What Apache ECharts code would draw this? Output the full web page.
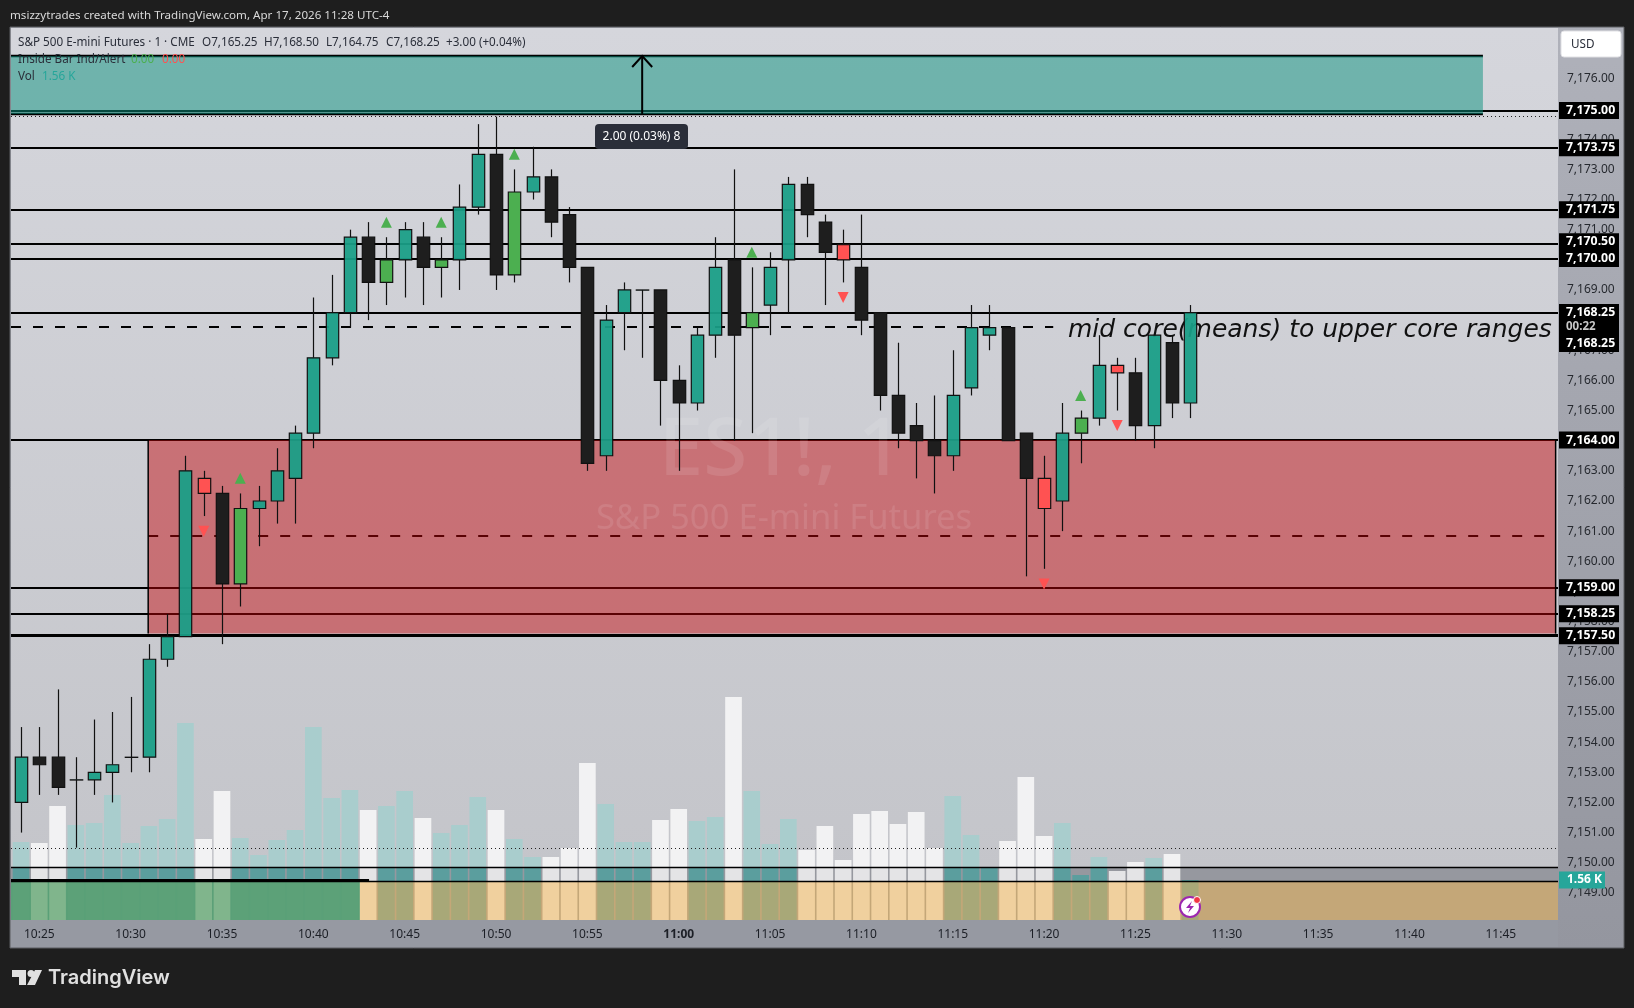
<!DOCTYPE html>
<html><head><meta charset="utf-8">
<script src="https://cdn.jsdelivr.net/npm/echarts@6/dist/echarts.min.js"></script>
<style>html,body{margin:0;padding:0;background:#1e1e1e;overflow:hidden}#c{width:1634px;height:1008px}</style>
</head><body><div id="c"></div>
<script>
const times=["10:24","10:25","10:26","10:27","10:28","10:29","10:30","10:31","10:32","10:33","10:34","10:35","10:36","10:37","10:38","10:39","10:40","10:41","10:42","10:43","10:44","10:45","10:46","10:47","10:48","10:49","10:50","10:51","10:52","10:53","10:54","10:55","10:56","10:57","10:58","10:59","11:00","11:01","11:02","11:03","11:04","11:05","11:06","11:07","11:08","11:09","11:10","11:11","11:12","11:13","11:14","11:15","11:16","11:17","11:18","11:19","11:20","11:21","11:22","11:23","11:24","11:25","11:26","11:27","11:28"];
const kinds="tkkttttttt"+"rkgttttttk"+"gtkgttkgtk"+"kktttkkttk"+"gttkkrkkkk"+"ktttkkrtgt"+"rktkt";
const opens=[7152,7153.5,7153.5,7152.75,7152.75,7153,7153.5,7153.5,7156.75,7157.5,7162.75,7162.25,7159.25,7161.75,7162,7162.75,7164.25,7166.75,7168.25,7170.75,7169.25,7170,7170.75,7169.75,7170,7171.75,7173.5,7169.5,7172.25,7172.75,7171.5,7169.75,7163.5,7168.25,7169,7169,7166,7165.25,7167.5,7170,7167.75,7168.5,7170,7172.5,7171.25,7170.5,7169.75,7168.25,7165.5,7164.5,7164,7163.5,7165.75,7167.5,7167.75,7164.25,7162.75,7162,7164.25,7164.75,7166.5,7166.25,7164.5,7167.25,7165.25];
const closes=[7153.5,7153.25,7152.5,7152.75,7153,7153.25,7153.5,7156.75,7157.5,7163,7162.25,7159.25,7161.75,7162,7163,7164.25,7166.75,7168.25,7170.75,7169.25,7170,7171,7169.75,7170,7171.75,7173.5,7169.5,7172.25,7172.75,7171.25,7169.75,7163.25,7168,7169,7169,7166,7165.25,7167.5,7169.75,7167.5,7168.25,7169.75,7172.5,7171.5,7170.25,7170,7168,7165.5,7164.25,7164,7163.5,7165.5,7167.75,7167.75,7164,7162.75,7161.75,7164.25,7164.75,7166.5,7166.25,7164.5,7167.5,7165.25,7168.25];
const highs=[7154.5,7154.5,7155.75,7153.5,7154.75,7155,7155.5,7157.25,7158.25,7163.5,7163,7162.5,7162.25,7162.5,7163.75,7164.5,7168.75,7169.5,7171,7171.25,7170.75,7171.25,7171.25,7170.75,7172.5,7174.5,7174.75,7173,7173.75,7173,7171.75,7169.75,7168.5,7169.25,7169,7169,7166.5,7167.75,7170.75,7173,7169.75,7170.25,7172.75,7172.75,7171.5,7171,7171.5,7168.25,7167.25,7165.25,7165.5,7167,7168.5,7168.5,7167.75,7164.25,7163.5,7165.25,7165,7167.5,7166.75,7166.75,7167.5,7167.5,7168.5];
const lows=[7151,7152.25,7152.25,7150.5,7152.25,7152,7153,7153,7156.5,7157.5,7161.5,7157.25,7158.5,7160.5,7161.25,7161.25,7163.75,7166.5,7167.75,7168,7168.5,7168.75,7168.5,7168.75,7169,7171.5,7169,7169.25,7172,7170.75,7169.25,7163,7163,7167,7166.75,7164.5,7163,7165,7166.75,7164,7164.25,7167.5,7168.25,7170.75,7168.5,7169.25,7167.5,7165,7163.75,7162.75,7162.25,7163,7165.5,7167,7164,7159.5,7159.75,7161,7163.25,7164.5,7165,7164,7163.75,7164.75,7164.75];
const volumes=[3042,3003,4446,3705,3783,4875,3003,3666,3939,7683,3159,5031,3198,2535,3120,3510,7527,4758,5070,4290,4446,5031,3978,3393,3705,4797,4290,3159,2457,2457,2808,6123,4524,3042,3042,3900,4329,3861,4017,8697,5031,2964,3939,2730,3666,2340,4134,4251,3744,4212,2808,4836,3315,2067,3081,5577,3276,3783,1755,2457,1911,2262,2418,2574,1560];
const signalsUp=[["10:36",7162.75],["10:44",7171.25],["10:47",7171.25],["10:51",7173.5],["11:04",7170.25],["11:22",7165.5]];
const signalsDown=[["10:34",7161],["11:09",7168.75],["11:20",7159.25],["11:24",7164.5]];
const xLabels=["10:25","10:30","10:35","10:40","10:45","10:50","10:55","11:00","11:05","11:10","11:15","11:20","11:25","11:30","11:35","11:40","11:45"];
const priceTicks=[7149,7150,7151,7152,7153,7154,7155,7156,7157,7158,7159,7160,7161,7162,7163,7164,7165,7166,7167,7168,7169,7170,7171,7172,7173,7174,7175,7176];
const levelLines=[7174.95,7173.72,7171.65,7170.53,7170.04,7168.25,7164.02,7159.11,7158.26];
const levelBottom=7157.54;
const priceTags=[["7,175.00",7174.95],["7,173.75",7173.72],["7,171.75",7171.66],["7,170.50",7170.6],["7,170.00",7170.04],["7,168.25",7167.22],["7,168.25\n00:22",7168.02],["7,164.00",7164.02],["7,159.00",7159.12],["7,158.25",7158.26],["7,157.50",7157.53]];
const dashedUpper=7167.77, dashedLower=7160.84;
const dottedUpper=7174.76, dottedLower=7150.48;
const bandTop=7149.85, bandBottom=7149.38;
const supplyTop=7176.76, supplyBottom=7174.84;
const demandTop=7164.02, demandBottom=7157.6;
const yMin=7148.10, yMax=7177.69, xMin=623.451, xMax=708.13;
const volMax=34788;
const demandStart=630.96, demandEnd=708.0, demandDashEnd=707.4, supplyEnd=704.02, upperDashEnd=680.5, greenEnd=643.05;
const arrowTime="10:58";

const M=s=>{const[a,b]=s.split(':').map(Number);return a*60+b};
const fill={t:'rgba(26,158,135,0.94)',k:'#1e1e1e',g:'#4caf50',r:'#ff5252'};
const FONT='"Noto Sans"';
const chart=echarts.init(document.getElementById('c'),null,{renderer:'canvas',width:1634,height:1008});
const fmt=v=>Number(v).toLocaleString('en-US',{minimumFractionDigits:2,maximumFractionDigits:2});

const renderRect=(c,x0,x1,top,bot,style,api)=>{
  const a=api.coord([x0,top]),b=api.coord([x1,bot]);
  return {type:'rect',shape:{x:a[0],y:a[1],width:b[0]-a[0],height:b[1]-a[1]},style};
};
const line=(y,width,type,color)=>({yAxis:y,lineStyle:{color:color||'#000',width,type:type||'solid'},label:{show:false}});
const seg=(x0,x1,y,width,type)=>[{coord:[x0,y],lineStyle:{color:'#000',width,type:type||'solid'},label:{show:false}},{coord:[x1,y]}];
const clear='rgba(0,0,0,0)';

const series=[
 {type:'custom',z:1,silent:true,data:[[0]],clip:true,renderItem:(p,api)=>({type:'group',children:[
    renderRect(0,xMin,xMax,bandTop,bandBottom,{fill:'#96989f'},api),
    renderRect(0,xMin,xMax,bandBottom,yMin,{fill:'#c4a778'},api),
    renderRect(0,xMin,greenEnd,bandBottom,yMin,{fill:'#5aa078'},api)
 ]})},
 {type:'custom',z:2,silent:true,yAxisIndex:1,clip:true,data:volumes.map((v,i)=>[M(times[i]),v]),
  encode:{x:0,y:1},renderItem:(p,api)=>{
    const i=p.dataIndex,x=api.value(0),v=api.value(1);
    const up=kinds[i]==='t'||kinds[i]==='g';
    const c=api.coord([x,v]);const w=api.size([1,0])[0]-1.6;
    const Y=l=>chart.convertToPixel({yAxisIndex:0},l);
    const yb1=Y(bandTop),yb2=Y(bandBottom),yEnd=Y(yMin);
    const green=x<greenEnd-0.5;
    const cols=up?['#a9cdcd','#5b9e9e',green?'#5ca178':'#a8a878']:['#f2f2f3','#e4e4e6',green?'#80b58c':'#f0d09e'];
    const parts=[[c[1],yb1,cols[0]],[Math.max(c[1],yb1),yb2,cols[1]],[Math.max(c[1],yb2),yEnd,cols[2]]];
    return {type:'group',children:parts.filter(s=>s[1]>s[0]).map(s=>({type:'rect',shape:{x:c[0]-w/2,y:s[0],width:w,height:s[1]-s[0]},style:{fill:s[2]}}))};
 }},
 {type:'line',z:3,data:[],markLine:{z:3,silent:true,symbol:'none',animation:false,data:[
    ...levelLines.map(y=>line(y,2)),
    line(bandTop,1.4),line(bandBottom,1.4),
    line(dottedUpper,1,[1,3],'#222'),line(dottedLower,1,[1,3],'#222'),
    line(levelBottom,3),
    seg(xMin,upperDashEnd,dashedUpper,2,[10,12]),
    seg(xMin,greenEnd,bandBottom+0.03,3)
 ]}},
 {type:'custom',z:4,silent:true,data:[[0]],clip:true,renderItem:(p,api)=>{
    const a=api.coord([demandStart,demandTop]),b=api.coord([demandEnd,demandBottom]);
    return {type:'group',children:[
      renderRect(0,xMin,supplyEnd,supplyTop,supplyBottom,{fill:'rgba(10,145,125,0.5)'},api),
      renderRect(0,demandStart,demandEnd,demandTop,demandBottom,{fill:'rgba(197,5,8,0.46)'},api),
      {type:'line',shape:{x1:a[0],y1:a[1],x2:a[0],y2:b[1]},style:{stroke:'#000',lineWidth:1.5}},
      {type:'line',shape:{x1:b[0],y1:a[1],x2:b[0],y2:b[1]},style:{stroke:'#000',lineWidth:1.5}}
    ]};
 }},
 {type:'line',z:4,data:[],markLine:{z:4,silent:true,symbol:'none',animation:false,data:[
    seg(demandStart,demandDashEnd,dashedLower,2,[10,12]),
    seg(xMin,supplyEnd,supplyTop,2.4),
    seg(xMin,supplyEnd,supplyBottom,2.4)
 ]}},
 {type:'custom',z:5,silent:true,data:[[M(arrowTime),supplyBottom,supplyTop]],encode:{x:0,y:[1,2]},renderItem:(p,api)=>{
    const a=api.coord([api.value(0),api.value(1)]),b=api.coord([api.value(0),api.value(2)]);
    const s={stroke:'#000',lineWidth:2,fill:null};
    return {type:'group',children:[
      {type:'line',shape:{x1:a[0],y1:a[1],x2:b[0],y2:b[1]},style:s},
      {type:'polyline',shape:{points:[[b[0]-10,b[1]+11],[b[0],b[1]],[b[0]+10,b[1]+11]]},style:s}
    ]};
 }},
 {type:'custom',z:7,silent:true,clip:true,data:times.map((t,i)=>[M(t),opens[i],closes[i],highs[i],lows[i]]),encode:{x:0,y:[1,2,3,4]},
  renderItem:(p,api)=>{
    const i=p.dataIndex,x=api.value(0);
    const o=api.value(1),c=api.value(2),h=api.value(3),l=api.value(4);
    const cx=Math.round(api.coord([x,o])[0])+0.5;
    const top=api.coord([x,Math.max(o,c)])[1],bot=api.coord([x,Math.min(o,c)])[1];
    const yh=api.coord([x,h])[1],yl=api.coord([x,l])[1];
    const w=12.4,ws={stroke:'#111',lineWidth:1.2};
    const ch=[];
    if(yh<top)ch.push({type:'line',shape:{x1:cx,y1:yh,x2:cx,y2:top},style:ws});
    if(yl>bot)ch.push({type:'line',shape:{x1:cx,y1:bot,x2:cx,y2:yl},style:ws});
    ch.push({type:'rect',shape:{x:cx-w/2,y:top,width:w,height:Math.max(bot-top,0.2)},style:{fill:fill[kinds[i]],stroke:'#111',lineWidth:1.2}});
    return {type:'group',children:ch};
 }},
 {type:'scatter',z:8,silent:true,symbol:'triangle',symbolSize:[11,11],itemStyle:{color:'#4caf50',opacity:1},data:signalsUp.map(d=>[M(d[0]),d[1]])},
 {type:'scatter',z:8,silent:true,symbol:'triangle',symbolRotate:180,symbolSize:[11,11],itemStyle:{color:'#ff5252',opacity:1},data:signalsDown.map(d=>[M(d[0]),d[1]])},
 {type:'line',z:9,data:[],markLine:{z:9,silent:true,symbol:'none',animation:false,lineStyle:{color:clear,width:0},
   label:{show:true,position:'end',distance:1,width:53,height:17,lineHeight:17,padding:[0,0,0,7],backgroundColor:'#000',color:'#fff',fontFamily:FONT,fontSize:12.3,fontWeight:'bold',
     formatter:p=>{const s=p.name.split('\n');return s.length>1?'{a|'+s[0]+'}\n{b|'+s[1]+'}':s[0]},
     rich:{a:{color:'#fff',fontFamily:FONT,fontSize:12.3,fontWeight:'bold',lineHeight:16},b:{color:'#c8c8c8',fontFamily:FONT,fontSize:11.5,lineHeight:14}}},
   data:priceTags.map(t=>({name:t[0],yAxis:t[1],label:t[0].includes('\n')?{height:31,lineHeight:15}:{}}))}},
 {type:'line',z:9,yAxisIndex:1,data:[],markLine:{z:9,silent:true,symbol:'none',animation:false,lineStyle:{color:clear,width:0},
   label:{show:true,position:'end',distance:1,width:38,height:17,lineHeight:17,padding:[0,0,0,8],backgroundColor:'#26a69a',color:'#fff',fontFamily:FONT,fontSize:12,fontWeight:'bold',formatter:'{b}'},
   data:[{name:'1.56 K',yAxis:volumes[volumes.length-1]}]}}
];

const T=(text,x,y,size,color,extra)=>({type:'text',z:12,silent:true,style:Object.assign({text,x,y,fontFamily:FONT,fontSize:size,fill:color,verticalAlign:'middle'},extra||{})});
const dark='#2a2e39';
const graphics=[
 {type:'rect',z:-3,shape:{x:10,y:27,width:1614,height:921},style:{fill:new echarts.graphic.LinearGradient(0,0,0,1,[{offset:0,color:'#afb1ba'},{offset:1,color:'#94969f'}]),stroke:'#5c5e63',lineWidth:1}},
 {type:'rect',z:-2,shape:{x:11,y:920,width:1547,height:27},style:{fill:'#9699a2'}},
 T('msizzytrades created with TradingView.com, Apr 17, 2026 11:28 UTC-4',10,15.5,11.6,'#d9d9d9'),
 T('S&P 500 E-mini Futures · 1 · CME',18,43,11.7,dark),
 T('O7,165.25',202,43,11.7,dark),T('H7,168.50',264,43,11.7,dark),T('L7,164.75',326,43,11.7,dark),T('C7,168.25',386,43,11.7,dark),T('+3.00 (+0.04%)',446,43,11.7,dark),
 T('Inside Bar Ind/Alert',18,60,11.7,dark),T('0.00',131,60,11.7,'#4caf50'),T('0.00',162,60,11.7,'#ff5252'),
 T('Vol',18,77,11.7,dark),T('1.56 K',42,77,11.7,'#26a69a'),
 {type:'rect',z:12,silent:true,shape:{x:1561,y:31,width:60,height:26,r:3},style:{fill:'#fff',stroke:'#e0e0e4',lineWidth:1}},
 T('USD',1571,44.5,11.7,dark),
 {type:'text',z:6,silent:true,style:{text:'ES1!, 1',x:781,y:452,align:'center',verticalAlign:'middle',fontFamily:FONT,fontSize:80,fontWeight:500,fill:'rgba(255,255,255,0.1)'}},
 {type:'text',z:6,silent:true,style:{text:'S&P 500 E-mini Futures',x:784,y:519,align:'center',verticalAlign:'middle',fontFamily:FONT,fontSize:34.6,fill:'rgba(255,255,255,0.1)'}},
 {type:'text',z:6,silent:true,style:{text:'mid core(means) to upper core ranges',x:1068,y:330,verticalAlign:'middle',fontFamily:'"DejaVu Sans"',fontStyle:'italic',fontSize:25,fill:'#111'}},
 {type:'rect',z:12,silent:true,shape:{x:595,y:124,width:93,height:25,r:4},style:{fill:dark}},
 T('2.00 (0.03%) 8',641.5,137,12,'#fff',{align:'center'}),
 {type:'circle',z:12,silent:true,shape:{cx:1190,cy:907,r:10},style:{fill:'#fff',stroke:'#9c27b0',lineWidth:2}},
 {type:'polygon',z:12,silent:true,shape:{points:[[1192,901],[1186,908],[1190,908],[1188,913],[1194,906],[1190,906]]},style:{fill:'#9c27b0'}},
 {type:'circle',z:12,silent:true,shape:{cx:1197,cy:900,r:3.5},style:{fill:'#f23645',stroke:'#fff',lineWidth:1}},
 {type:'polygon',z:12,silent:true,shape:{points:[[12,970],[26,970],[26,985],[19,985],[19,977],[12,977]]},style:{fill:'#e0e0e0'}},
 {type:'circle',z:12,silent:true,shape:{cx:31,cy:973.5,r:3.5},style:{fill:'#e0e0e0'}},
 {type:'polygon',z:12,silent:true,shape:{points:[[35,970],[42,970],[35,985],[27,985]]},style:{fill:'#e0e0e0'}},
 T('TradingView',48,978,20,'#e0e0e0',{fontFamily:'Inter',fontWeight:600})
];

chart.setOption({
 animation:false,backgroundColor:'#1e1e1e',
 grid:{left:11,top:28,width:1547,height:892,show:true,borderWidth:0,containLabel:false,
   backgroundColor:new echarts.graphic.LinearGradient(0,0,0,1,[{offset:0,color:'#d5d6dc'},{offset:1,color:'#c3c4c9'}])},
 xAxis:{type:'value',min:xMin,max:xMax,
   axisLine:{show:false},axisTick:{show:false,customValues:xLabels.map(M)},splitLine:{show:false},
   axisLabel:{customValues:xLabels.map(M),margin:9,fontFamily:FONT,fontSize:12,color:'#1c1f26',
     formatter:v=>{const h=Math.floor(v/60),m=Math.round(v%60);const s=h+':'+String(m).padStart(2,'0');return s==='11:00'?'{b|'+s+'}':s},
     rich:{b:{fontWeight:'bold',fontFamily:FONT,fontSize:12,color:'#1c1f26'}}}},
 yAxis:[
  {type:'value',position:'right',min:yMin,max:yMax,axisLine:{show:false},axisTick:{show:false,customValues:priceTicks},splitLine:{show:false},
   axisLabel:{customValues:priceTicks,margin:9,fontFamily:FONT,fontSize:12,color:'#26292f',padding:[0,0,3,0],formatter:fmt}},
  {type:'value',min:0,max:volMax,show:false,splitLine:{show:false}}
 ],
 series,graphic:{elements:graphics}
});
</script></body></html>
